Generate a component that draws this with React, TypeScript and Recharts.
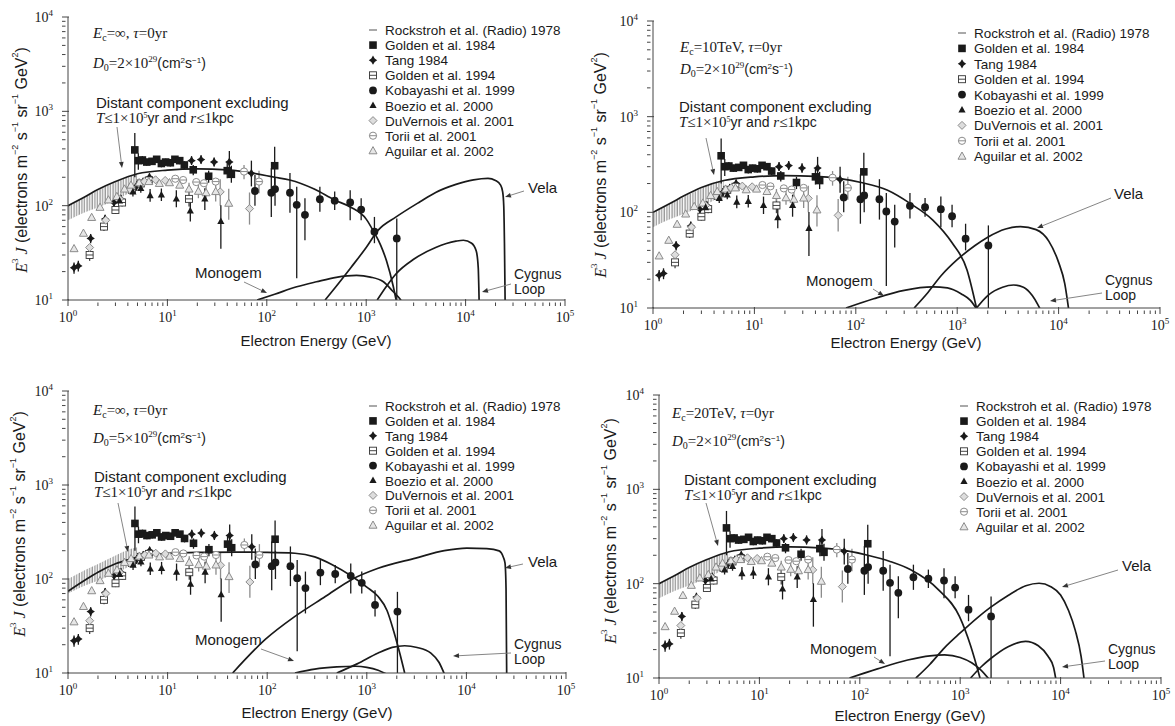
import React from 'react';
import { ComposedChart, XAxis, YAxis, Line, Scatter, Area, ErrorBar } from 'recharts';

const SERIF = '"Liberation Serif", "DejaVu Serif", serif';
const SANS = '"Liberation Sans", Arial, sans-serif';
const INK = '#1a1a1a';
const GREY = '#8c8c8c';
const FRAME = '#444';

// ticks
const POW10 = [1, 10, 100, 1000, 10000, 100000];
const xTicks = [...POW10, ...[1, 10, 100, 1000, 10000].flatMap((d) => [2, 3, 4, 5, 6, 7, 8, 9].map((m) => m * d))].sort((a, b) => a - b);
const yTicks = [10, 100, 1000, 10000, ...[10, 100, 1000].flatMap((d) => [2, 3, 4, 5, 6, 7, 8, 9].map((m) => m * d))].sort((a, b) => a - b);

// observational data (same in every panel)
const radioBand = [
  { x: 1.0, range: [70, 100] },
  { x: 1.3, range: [80, 116] },
  { x: 1.7, range: [90, 133] },
  { x: 2.2, range: [100, 152] },
  { x: 3.0, range: [115, 178] },
  { x: 3.8, range: [130, 200] },
  { x: 4.5, range: [145, 212] },
  { x: 5.0, range: [155, 218] },
];

const golden1984 = [
  { x: 4.7, y: 390, err: [190, 200] },
  { x: 5.1, y: 300, err: [60, 60] },
  { x: 5.6, y: 305, err: [30, 30] },
  { x: 6.2, y: 290, err: [25, 25] },
  { x: 7.0, y: 295, err: [25, 25] },
  { x: 7.8, y: 310, err: [25, 25] },
  { x: 8.7, y: 280, err: [25, 25] },
  { x: 9.6, y: 290, err: [25, 25] },
  { x: 10.7, y: 285, err: [25, 25] },
  { x: 11.9, y: 310, err: [25, 25] },
  { x: 13.3, y: 300, err: [25, 25] },
  { x: 14.8, y: 270, err: [25, 25] },
  { x: 18.2, y: 240, err: [30, 30] },
  { x: 26, y: 205, err: [30, 30] },
  { x: 40, y: 235, err: [40, 50] },
  { x: 44, y: 215, err: [40, 50] },
  { x: 120, y: 265, err: [100, 155] },
];

const tang1984 = [
  { x: 1.15, y: 22, err: [3, 3] },
  { x: 1.27, y: 23, err: [3, 3] },
  { x: 1.69, y: 45, err: [5, 5] },
  { x: 2.36, y: 72, err: [8, 8] },
  { x: 2.9, y: 108, err: [12, 12] },
  { x: 3.4, y: 118, err: [12, 12] },
  { x: 4.1, y: 150, err: [15, 15] },
  { x: 4.9, y: 162, err: [18, 18] },
  { x: 5.7, y: 178, err: [20, 20] },
  { x: 6.6, y: 200, err: [20, 20] },
  { x: 17.5, y: 300, err: [30, 35] },
  { x: 21.8, y: 308, err: [30, 35] },
  { x: 29.5, y: 290, err: [30, 35] },
  { x: 42, y: 290, err: [60, 90] },
  { x: 70, y: 220, err: [60, 80] },
];

const golden1994 = [
  { x: 1.65, y: 30, err: [4, 4] },
  { x: 2.3, y: 60, err: [6, 6] },
  { x: 3.0, y: 90, err: [8, 8] },
  { x: 3.5, y: 108, err: [10, 10] },
  { x: 4.4, y: 148, err: [12, 12] },
  { x: 5.4, y: 172, err: [15, 15] },
  { x: 6.5, y: 185, err: [15, 15] },
  { x: 16.5, y: 118, err: [20, 25] },
];

const kobayashi1999 = [
  { x: 76, y: 143, err: [43, 68] },
  { x: 111, y: 137, err: [61, 113] },
  { x: 121, y: 150, err: [50, 50] },
  { x: 171, y: 137, err: [53, 85] },
  { x: 200, y: 102, err: [85, 57] },
  { x: 242, y: 80, err: [37, 40] },
  { x: 342, y: 117, err: [31, 42] },
  { x: 482, y: 113, err: [23, 28] },
  { x: 690, y: 108, err: [38, 38] },
  { x: 890, y: 91, err: [21, 29] },
  { x: 1210, y: 53, err: [13, 23] },
  { x: 2030, y: 45, err: [35, 28] },
];

const boezio2000 = [
  { x: 3.3, y: 112, err: [10, 10] },
  { x: 4.5, y: 140, err: [15, 15] },
  { x: 5.4, y: 152, err: [15, 15] },
  { x: 6.7, y: 128, err: [18, 22] },
  { x: 8.7, y: 130, err: [18, 22] },
  { x: 12.3, y: 118, err: [22, 28] },
  { x: 17.0, y: 88, err: [20, 25] },
  { x: 23.8, y: 118, err: [28, 35] },
  { x: 34.5, y: 68, err: [33, 33] },
];

const duVernois2001 = [
  { x: 1.65, y: 36, err: [0, 0] },
  { x: 2.4, y: 70, err: [0, 0] },
  { x: 3.3, y: 118, err: [0, 0] },
  { x: 4.2, y: 148, err: [0, 0] },
  { x: 5.9, y: 180, err: [0, 0] },
  { x: 7.6, y: 188, err: [0, 0] },
  { x: 9.5, y: 185, err: [0, 0] },
  { x: 34, y: 140, err: [40, 50] },
  { x: 67, y: 93, err: [30, 45] },
];

const torii2001 = [
  { x: 12, y: 193, err: [0, 0] },
  { x: 14.4, y: 187, err: [0, 0] },
  { x: 19.5, y: 178, err: [0, 0] },
  { x: 23.3, y: 173, err: [0, 0] },
  { x: 30.6, y: 180, err: [0, 0] },
  { x: 59, y: 230, err: [40, 40] },
  { x: 83.5, y: 180, err: [45, 55] },
];

const aguilar2002 = [
  { x: 1.15, y: 35, err: [0, 0] },
  { x: 1.43, y: 51, err: [0, 0] },
  { x: 1.73, y: 75, err: [0, 0] },
  { x: 2.1, y: 96, err: [0, 0] },
  { x: 2.55, y: 115, err: [0, 0] },
  { x: 3.1, y: 125, err: [0, 0] },
  { x: 3.7, y: 150, err: [0, 0] },
  { x: 4.3, y: 165, err: [0, 0] },
  { x: 5.2, y: 175, err: [0, 0] },
  { x: 6.5, y: 180, err: [0, 0] },
  { x: 8.3, y: 172, err: [0, 0] },
  { x: 10.5, y: 175, err: [0, 0] },
  { x: 13.3, y: 165, err: [0, 0] },
  { x: 16.5, y: 150, err: [20, 25] },
  { x: 20.5, y: 142, err: [22, 25] },
  { x: 24.5, y: 137, err: [25, 30] },
  { x: 30.6, y: 141, err: [30, 35] },
  { x: 41.4, y: 106, err: [35, 45] },
];

// model curves, panel by panel
const mainP1 = [
  { x: 1, y: 100 }, { x: 1.5, y: 125 }, { x: 2, y: 148 }, { x: 3, y: 180 }, { x: 5, y: 218 },
  { x: 10, y: 238 }, { x: 20, y: 245 }, { x: 40, y: 240 }, { x: 70, y: 222 }, { x: 120, y: 200 },
  { x: 170, y: 187 }, { x: 300, y: 150 }, { x: 480, y: 115 }, { x: 690, y: 97 }, { x: 1000, y: 72 },
  { x: 1190, y: 53 }, { x: 1400, y: 38 }, { x: 1600, y: 26 }, { x: 1870, y: 14 }, { x: 2000, y: 10 },
];
const monogemP1 = [
  { x: 80, y: 10 }, { x: 120, y: 11.5 }, { x: 200, y: 13.8 }, { x: 316, y: 15.6 }, { x: 500, y: 17.4 },
  { x: 800, y: 18.2 }, { x: 1100, y: 17.5 }, { x: 1490, y: 15.6 }, { x: 1860, y: 12.3 }, { x: 2150, y: 10.5 }, { x: 2300, y: 9.5 },
];
const velaP1 = [
  { x: 386, y: 10 }, { x: 500, y: 14 }, { x: 700, y: 22 }, { x: 1000, y: 36 }, { x: 1320, y: 55 },
  { x: 2000, y: 76 }, { x: 3480, y: 110 }, { x: 5000, y: 138 }, { x: 8000, y: 168 }, { x: 12000, y: 188 },
  { x: 16800, y: 195 }, { x: 20000, y: 185 }, { x: 22500, y: 165 }, { x: 23600, y: 140 }, { x: 24200, y: 100 },
  { x: 24600, y: 40 }, { x: 25000, y: 9 },
];
const cygnusP1 = [
  { x: 1290, y: 10 }, { x: 1600, y: 14 }, { x: 2000, y: 19 }, { x: 3000, y: 27 }, { x: 5000, y: 36 },
  { x: 8000, y: 42 }, { x: 9500, y: 43 }, { x: 11500, y: 40 }, { x: 12800, y: 33 }, { x: 13400, y: 22 }, { x: 13700, y: 9 },
];

const mainP2 = [
  { x: 1, y: 100 }, { x: 1.5, y: 125 }, { x: 2, y: 148 }, { x: 3, y: 182 }, { x: 5, y: 215 },
  { x: 10, y: 235 }, { x: 20, y: 242 }, { x: 40, y: 238 }, { x: 70, y: 225 }, { x: 113, y: 205 },
  { x: 206, y: 170 }, { x: 343, y: 124 }, { x: 575, y: 83 }, { x: 890, y: 48 }, { x: 1250, y: 25 }, { x: 1550, y: 10 },
];
const monogemP2 = [
  { x: 80, y: 10 }, { x: 150, y: 12.5 }, { x: 300, y: 15.3 }, { x: 575, y: 16.6 }, { x: 800, y: 16.2 },
  { x: 1100, y: 14 }, { x: 1350, y: 12 }, { x: 1580, y: 9.5 },
];
const velaP2 = [
  { x: 376, y: 10 }, { x: 500, y: 14 }, { x: 700, y: 22 }, { x: 1000, y: 32 }, { x: 1500, y: 45 },
  { x: 2000, y: 55 }, { x: 3000, y: 67 }, { x: 4200, y: 71 }, { x: 6000, y: 66 }, { x: 8000, y: 50 },
  { x: 10000, y: 30 }, { x: 11500, y: 18 }, { x: 12600, y: 9.5 },
];
const cygnusP2 = [
  { x: 1550, y: 10 }, { x: 2000, y: 13.5 }, { x: 2800, y: 16.5 }, { x: 3600, y: 17.4 }, { x: 4500, y: 16.5 },
  { x: 5500, y: 13.5 }, { x: 6200, y: 11 }, { x: 6650, y: 9.5 },
];

const mainP3 = [
  { x: 1, y: 74 }, { x: 1.5, y: 98 }, { x: 2, y: 118 }, { x: 3, y: 145 }, { x: 4, y: 160 },
  { x: 6, y: 178 }, { x: 10, y: 188 }, { x: 20, y: 192 }, { x: 50, y: 193 }, { x: 100, y: 192 },
  { x: 190, y: 188 }, { x: 300, y: 172 }, { x: 450, y: 142 }, { x: 708, y: 107 }, { x: 1000, y: 82 },
  { x: 1300, y: 65 }, { x: 1600, y: 46 }, { x: 1860, y: 28 }, { x: 2150, y: 16 }, { x: 2400, y: 10 },
];
const monogemP3 = [
  { x: 190, y: 10 }, { x: 300, y: 11 }, { x: 500, y: 11.6 }, { x: 770, y: 11.8 }, { x: 1000, y: 11.5 },
  { x: 1300, y: 10.7 }, { x: 1560, y: 9.8 },
];
const velaP3 = [
  { x: 45, y: 10 }, { x: 95, y: 22.6 }, { x: 190, y: 40 }, { x: 383, y: 65 }, { x: 708, y: 99 },
  { x: 1300, y: 130 }, { x: 3100, y: 167 }, { x: 6000, y: 200 }, { x: 10100, y: 213 }, { x: 16000, y: 210 },
  { x: 21300, y: 199 }, { x: 23500, y: 170 }, { x: 24400, y: 148 }, { x: 25000, y: 80 }, { x: 25400, y: 9 },
];
const cygnusP3 = [
  { x: 500, y: 10 }, { x: 800, y: 12.5 }, { x: 1300, y: 16.3 }, { x: 1800, y: 18.7 }, { x: 2400, y: 19.5 },
  { x: 3200, y: 18.7 }, { x: 4400, y: 16.3 }, { x: 5300, y: 13 }, { x: 6000, y: 9.8 },
];

const mainP4 = [
  { x: 1, y: 100 }, { x: 1.5, y: 125 }, { x: 2, y: 148 }, { x: 3, y: 180 }, { x: 5, y: 218 },
  { x: 10, y: 238 }, { x: 20, y: 245 }, { x: 40, y: 240 }, { x: 70, y: 225 }, { x: 120, y: 200 },
  { x: 200, y: 172 }, { x: 318, y: 141 }, { x: 609, y: 86 }, { x: 982, y: 45 }, { x: 1270, y: 22 }, { x: 1575, y: 10 },
];
const monogemP4 = [
  { x: 79, y: 10 }, { x: 150, y: 12.5 }, { x: 300, y: 15.5 }, { x: 500, y: 17.2 }, { x: 700, y: 17.6 },
  { x: 1000, y: 16.5 }, { x: 1300, y: 14.5 }, { x: 1600, y: 12.2 }, { x: 1970, y: 9.5 },
];
const velaP4 = [
  { x: 362, y: 10 }, { x: 500, y: 14 }, { x: 700, y: 21 }, { x: 1000, y: 30 }, { x: 1500, y: 44 },
  { x: 2000, y: 56 }, { x: 3000, y: 75 }, { x: 4500, y: 95 }, { x: 6100, y: 101 }, { x: 8000, y: 93 },
  { x: 10000, y: 76 }, { x: 12000, y: 52 }, { x: 14000, y: 32 }, { x: 16000, y: 17 }, { x: 17200, y: 9.5 },
];
const cygnusP4 = [
  { x: 1270, y: 10 }, { x: 1600, y: 13 }, { x: 2000, y: 16 }, { x: 3000, y: 21.5 }, { x: 4480, y: 24.5 },
  { x: 6000, y: 22 }, { x: 7500, y: 17 }, { x: 8500, y: 13 }, { x: 9000, y: 9.5 },
];

const legendNames = [
  'Rockstroh et al. (Radio) 1978',
  'Golden et al. 1984',
  'Tang 1984',
  'Golden et al. 1994',
  'Kobayashi et al. 1999',
  'Boezio et al. 2000',
  'DuVernois et al. 2001',
  'Torii et al. 2001',
  'Aguilar et al. 2002',
];

// markers
const dash = (p: any) => <line x1={p.cx - 4} x2={p.cx + 4} y1={p.cy} y2={p.cy} stroke={GREY} strokeWidth={1.5} />;
const sqFilled = (p: any) => <rect x={p.cx - 3.8} y={p.cy - 3.8} width={7.6} height={7.6} fill={INK} />;
const star4 = (p: any) => {
  const { cx, cy } = p;
  return (
    <path
      d={`M${cx},${cy - 4.6}L${cx + 1.7},${cy - 1.7}L${cx + 4.2},${cy}L${cx + 1.7},${cy + 1.7}L${cx},${cy + 4.6}L${cx - 1.7},${cy + 1.7}L${cx - 4.2},${cy}L${cx - 1.7},${cy - 1.7}Z`}
      fill={INK}
    />
  );
};
const sqOpen = (p: any) => (
  <g stroke="#333" strokeWidth={0.9} fill="#fff">
    <rect x={p.cx - 3.5} y={p.cy - 3.5} width={7} height={7} />
    <line x1={p.cx - 3.5} x2={p.cx + 3.5} y1={p.cy} y2={p.cy} />
  </g>
);
const dotFilled = (p: any) => <circle cx={p.cx} cy={p.cy} r={3.9} fill={INK} />;
const triFilled = (p: any) => (
  <path d={`M${p.cx},${p.cy - 4}L${p.cx + 3.6},${p.cy + 2.6}L${p.cx - 3.6},${p.cy + 2.6}Z`} fill={INK} />
);
const diamondOpen = (p: any) => (
  <path d={`M${p.cx},${p.cy - 4}L${p.cx + 4},${p.cy}L${p.cx},${p.cy + 4}L${p.cx - 4},${p.cy}Z`} fill="#ddd" stroke={GREY} strokeWidth={1} />
);
const circleOpen = (p: any) => (
  <g stroke={GREY} strokeWidth={1} fill="#fff">
    <circle cx={p.cx} cy={p.cy} r={3.6} />
    <line x1={p.cx - 3.6} x2={p.cx + 3.6} y1={p.cy} y2={p.cy} />
  </g>
);
const triOpen = (p: any) => (
  <path d={`M${p.cx},${p.cy - 4.2}L${p.cx + 4},${p.cy + 3}L${p.cx - 4},${p.cy + 3}Z`} fill="#e6e6e6" stroke={GREY} strokeWidth={1} />
);

const legendMarkers = [dash, sqFilled, star4, sqOpen, dotFilled, triFilled, diamondOpen, circleOpen, triOpen];

// axis ticks (drawn inward, like a framed physics plot)
const isMajor = (v: number) => POW10.includes(v);
const exp = (v: number) => Math.round(Math.log10(v));

const BottomTick = (p: any) => {
  const v = p.payload.value;
  const major = isMajor(v);
  return (
    <g>
      <line x1={p.x} x2={p.x} y1={p.y} y2={p.y - (major ? 7 : 3.5)} stroke={FRAME} />
      {major && (
        <text x={p.x} y={p.y + 16} textAnchor="middle" fontFamily={SERIF} fontSize={14} fill={INK}>
          10<tspan dy={-6} fontSize={9}>{exp(v)}</tspan>
        </text>
      )}
    </g>
  );
};
const TopTick = (p: any) => {
  const major = isMajor(p.payload.value);
  return <line x1={p.x} x2={p.x} y1={p.y} y2={p.y + (major ? 7 : 3.5)} stroke={FRAME} />;
};
const LeftTick = (p: any) => {
  const v = p.payload.value;
  const major = isMajor(v);
  return (
    <g>
      <line x1={p.x} x2={p.x + (major ? 7 : 3.5)} y1={p.y} y2={p.y} stroke={FRAME} />
      {major && (
        <text x={p.x - 9} y={p.y + 5} textAnchor="end" fontFamily={SERIF} fontSize={14} fill={INK}>
          10<tspan dy={-6} fontSize={9}>{exp(v)}</tspan>
        </text>
      )}
    </g>
  );
};
const RightTick = (p: any) => {
  const major = isMajor(p.payload.value);
  return <line x1={p.x} x2={p.x - (major ? 7 : 3.5)} y1={p.y} y2={p.y} stroke={FRAME} />;
};

const panels = [
  {
    id: 1, L: 68, T: 17, R: 565, B: 300, main: mainP1, monogem: monogemP1, vela: velaP1, cygnus: cygnusP1,
    ec: '∞', d0: '2',
    ecPos: [93, 38], d0Pos: [93, 68], dist: [96, 108], distArrow: [117, 127, 122, 168],
    monoLbl: [195, 278], monoArrow: [244, 282, 267, 293], velaLbl: [528, 193], velaArrow: [524, 191, 505, 197],
    cygLbl: [514, 279], cygArrow: [511, 284, 482, 292], legend: [373, 385, 30, 15.1],
    xTitle: [316, 346], yTitle: [21, 160],
  },
  {
    id: 2, L: 653, T: 21, R: 1160, B: 308, main: mainP2, monogem: monogemP2, vela: velaP2, cygnus: cygnusP2,
    ec: '10TeV', d0: '2',
    ecPos: [680, 52], d0Pos: [680, 74], dist: [679, 112], distArrow: [706, 138, 714, 175],
    monoLbl: [806, 286], monoArrow: [873, 289, 884, 296], velaLbl: [1114, 199], velaArrow: [1111, 198, 1037, 228],
    cygLbl: [1105, 285], cygArrow: [1102, 293, 1050, 301], legend: [962, 974, 33, 15.4],
    xTitle: [906, 348], yTitle: [600, 165],
  },
  {
    id: 3, L: 68, T: 391, R: 566, B: 673, main: mainP3, monogem: monogemP3, vela: velaP3, cygnus: cygnusP3,
    ec: '∞', d0: '5',
    ecPos: [93, 415], d0Pos: [93, 443], dist: [94, 482], distArrow: [118, 503, 128, 552],
    monoLbl: [195, 645], monoArrow: [261, 649, 294, 661], velaLbl: [528, 567], velaArrow: [523, 564, 505, 568],
    cygLbl: [514, 649], cygArrow: [511, 653, 453, 656], legend: [373, 385, 406, 14.9],
    xTitle: [317, 718], yTitle: [19, 524],
  },
  {
    id: 4, L: 659, T: 395, R: 1161, B: 678, main: mainP4, monogem: monogemP4, vela: velaP4, cygnus: cygnusP4,
    ec: '20TeV', d0: '2',
    ecPos: [672, 418], d0Pos: [672, 446], dist: [684, 485], distArrow: [706, 503, 718, 546],
    monoLbl: [810, 654], monoArrow: [874, 657, 885, 664], velaLbl: [1122, 571], velaArrow: [1118, 570, 1062, 587],
    cygLbl: [1108, 654], cygArrow: [1105, 661, 1062, 667], legend: [964, 976, 406, 15.1],
    xTitle: [910, 721], yTitle: [610, 531],
  },
];

const ML = 60;
const MT = 14;
const MR = 14;
const XH = 40;

const curveProps = { type: 'monotone' as const, dataKey: 'y', dot: false, stroke: INK, strokeWidth: 1.7, isAnimationActive: false, xAxisId: 'b', yAxisId: 'l' };

function Panel({ cfg }: { cfg: any }) {
  const width = cfg.R - cfg.L + ML + MR;
  const height = cfg.B - cfg.T + MT + XH;
  const hatchId = `hatch${cfg.id}`;
  const series = [
    { data: golden1984, shape: sqFilled, bar: INK },
    { data: tang1984, shape: star4, bar: INK },
    { data: golden1994, shape: sqOpen, bar: '#444' },
    { data: duVernois2001, shape: diamondOpen, bar: GREY },
    { data: torii2001, shape: circleOpen, bar: GREY },
    { data: aguilar2002, shape: triOpen, bar: GREY },
    { data: boezio2000, shape: triFilled, bar: INK },
    { data: kobayashi1999, shape: dotFilled, bar: INK },
  ];
  return (
    <div style={{ position: 'absolute', left: cfg.L - ML, top: cfg.T - MT }}>
      <ComposedChart width={width} height={height} margin={{ top: MT, right: MR, bottom: 0, left: 0 }}>
        <defs>
          <pattern id={hatchId} width={2.6} height={6} patternUnits="userSpaceOnUse">
            <line x1={1} y1={0} x2={1} y2={6} stroke="#6a6a6a" strokeWidth={0.9} />
          </pattern>
        </defs>
        <XAxis xAxisId="b" type="number" dataKey="x" scale="log" domain={[1, 100000]} allowDataOverflow ticks={xTicks} interval={0}
          tickLine={false} tickMargin={0} height={XH} tick={<BottomTick />} axisLine={{ stroke: FRAME }} />
        <XAxis xAxisId="t" orientation="top" type="number" dataKey="x" scale="log" domain={[1, 100000]} allowDataOverflow ticks={xTicks} interval={0}
          tickLine={false} tickMargin={0} height={0} tick={<TopTick />} axisLine={{ stroke: FRAME }} />
        <YAxis yAxisId="l" type="number" dataKey="y" scale="log" domain={[10, 10000]} allowDataOverflow ticks={yTicks} interval={0}
          tickLine={false} tickMargin={0} width={ML} tick={<LeftTick />} axisLine={{ stroke: FRAME }} />
        <YAxis yAxisId="r" orientation="right" type="number" dataKey="y" scale="log" domain={[10, 10000]} allowDataOverflow ticks={yTicks} interval={0}
          tickLine={false} tickMargin={0} width={0} tick={<RightTick />} axisLine={{ stroke: FRAME }} />

        <Area xAxisId="b" yAxisId="l" data={radioBand} dataKey="range" type="monotone" stroke="none" fill={`url(#${hatchId})`} fillOpacity={1} isAnimationActive={false} />

        {series.map((s, i) => (
          <Scatter key={i} xAxisId="b" yAxisId="l" data={s.data} shape={s.shape} isAnimationActive={false}>
            <ErrorBar dataKey="err" direction="y" width={0} stroke={s.bar} strokeWidth={1.3} />
          </Scatter>
        ))}

        <Line {...curveProps} data={cfg.main} />
        <Line {...curveProps} data={cfg.monogem} />
        <Line {...curveProps} data={cfg.vela} />
        <Line {...curveProps} data={cfg.cygnus} />
      </ComposedChart>
    </div>
  );
}

const Arrow = ({ a }: { a: number[] }) => {
  const [x1, y1, x2, y2] = a;
  const ang = Math.atan2(y2 - y1, x2 - x1);
  const len = 6;
  const hw = 2.4;
  const bx = x2 - len * Math.cos(ang);
  const by = y2 - len * Math.sin(ang);
  const px = -Math.sin(ang) * hw;
  const py = Math.cos(ang) * hw;
  return (
    <g>
      <line x1={x1} y1={y1} x2={bx} y2={by} stroke="#777" strokeWidth={0.9} />
      <path d={`M${x2},${y2}L${bx + px},${by + py}L${bx - px},${by - py}Z`} fill="#333" />
    </g>
  );
};

function Annotations({ cfg }: { cfg: any }) {
  const [sx, tx, y0, dy] = cfg.legend;
  return (
    <g fill={INK}>
      <text x={cfg.ecPos[0]} y={cfg.ecPos[1]} fontFamily={SERIF} fontSize={15}>
        <tspan fontStyle="italic">E</tspan>
        <tspan fontSize={10} dy={3}>c</tspan>
        <tspan dy={-3}>={cfg.ec}, </tspan>
        <tspan fontStyle="italic">τ</tspan>
        <tspan>=0yr</tspan>
      </text>
      <text x={cfg.d0Pos[0]} y={cfg.d0Pos[1]} fontFamily={SERIF} fontSize={15}>
        <tspan fontStyle="italic">D</tspan>
        <tspan fontSize={10} dy={3}>0</tspan>
        <tspan dy={-3}>={cfg.d0}×10</tspan>
        <tspan fontSize={9} dy={-6}>29</tspan>
        <tspan dy={6} fontFamily={SANS} fontSize={14}>(cm</tspan>
        <tspan fontFamily={SANS} fontSize={8} dy={-5}>2</tspan>
        <tspan fontFamily={SANS} fontSize={14} dy={5}>s</tspan>
        <tspan fontFamily={SANS} fontSize={8} dy={-5}>−1</tspan>
        <tspan fontFamily={SANS} fontSize={14} dy={5}>)</tspan>
      </text>
      <text x={cfg.dist[0]} y={cfg.dist[1]} fontFamily={SANS} fontSize={15}>Distant component excluding</text>
      <text x={cfg.dist[0]} y={cfg.dist[1] + 15} fontFamily={SANS} fontSize={14}>
        <tspan fontFamily={SERIF} fontStyle="italic" fontSize={15}>T</tspan>
        <tspan fontFamily={SERIF} fontSize={15}>≤1×10</tspan>
        <tspan fontFamily={SERIF} fontSize={8} dy={-5}>5</tspan>
        <tspan dy={5}>yr and </tspan>
        <tspan fontFamily={SERIF} fontStyle="italic" fontSize={15}>r</tspan>
        <tspan fontFamily={SERIF} fontSize={15}>≤1</tspan>
        <tspan>kpc</tspan>
      </text>
      <Arrow a={cfg.distArrow} />

      <text x={cfg.monoLbl[0]} y={cfg.monoLbl[1]} fontFamily={SANS} fontSize={15}>Monogem</text>
      <Arrow a={cfg.monoArrow} />
      <text x={cfg.velaLbl[0]} y={cfg.velaLbl[1]} fontFamily={SANS} fontSize={15}>Vela</text>
      <Arrow a={cfg.velaArrow} />
      <text x={cfg.cygLbl[0]} y={cfg.cygLbl[1]} fontFamily={SANS} fontSize={14}>Cygnus</text>
      <text x={cfg.cygLbl[0]} y={cfg.cygLbl[1] + 15} fontFamily={SANS} fontSize={14}>Loop</text>
      <Arrow a={cfg.cygArrow} />

      {legendNames.map((name, i) => (
        <g key={name}>
          {legendMarkers[i]({ cx: sx, cy: y0 + i * dy })}
          <text x={tx} y={y0 + i * dy + 5} fontFamily={SANS} fontSize={13.5}>{name}</text>
        </g>
      ))}

      <text x={cfg.xTitle[0]} y={cfg.xTitle[1]} textAnchor="middle" fontFamily={SANS} fontSize={15}>Electron Energy (GeV)</text>
      <text
        x={cfg.yTitle[0]}
        y={cfg.yTitle[1]}
        transform={`rotate(-90 ${cfg.yTitle[0]} ${cfg.yTitle[1]})`}
        textAnchor="middle"
        dominantBaseline="central"
        fontFamily={SANS}
        fontSize={16}
      >
        <tspan fontFamily={SERIF} fontStyle="italic">E</tspan>
        <tspan fontFamily={SERIF} fontSize={9} dy={-6}>3</tspan>
        <tspan fontFamily={SERIF} fontStyle="italic" dy={6}> J</tspan>
        <tspan> (electrons m</tspan>
        <tspan fontSize={9} dy={-6}>−2</tspan>
        <tspan dy={6}> s</tspan>
        <tspan fontSize={9} dy={-6}>−1</tspan>
        <tspan dy={6}> sr</tspan>
        <tspan fontSize={9} dy={-6}>−1</tspan>
        <tspan dy={6}> GeV</tspan>
        <tspan fontSize={9} dy={-6}>2</tspan>
        <tspan dy={6}>)</tspan>
      </text>
    </g>
  );
}

export default function App() {
  return (
    <div style={{ position: 'absolute', left: 0, top: 0, width: 1175, height: 726, background: '#fff', overflow: 'hidden' }}>
      {panels.map((cfg) => (
        <Panel key={cfg.id} cfg={cfg} />
      ))}
      <svg width={1175} height={726} style={{ position: 'absolute', left: 0, top: 0, pointerEvents: 'none' }}>
        {panels.map((cfg) => (
          <Annotations key={cfg.id} cfg={cfg} />
        ))}
      </svg>
    </div>
  );
}
